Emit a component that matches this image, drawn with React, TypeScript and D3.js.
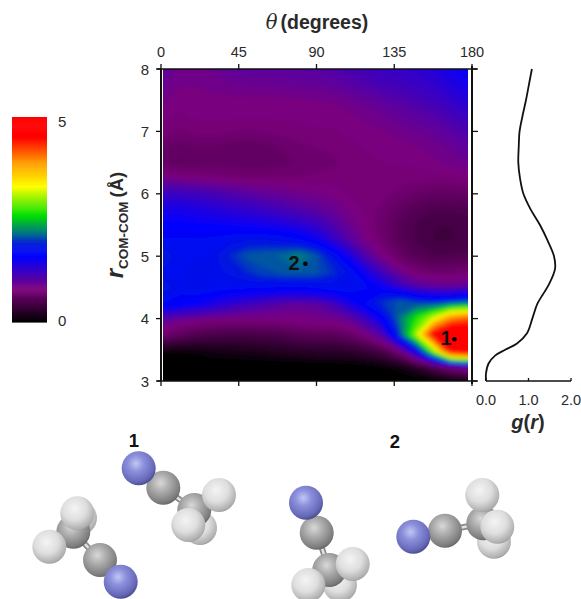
import React from "react";
import * as d3 from "d3";

const thetaValues = d3.range(0, 181, 10);
const rValues = d3.range(8, 2.99, -0.25);
// density, rows r = 8 -> 3, columns theta = 0 -> 180
const density: number[][] = [
  [1.0,.9,.9,.95,1.0,1.03,1.03,1.03,1.05,1.07,1.1,1.15,1.2,1.25,1.28,1.32,1.38,1.5,1.62],
  [.95,.88,.88,.9,.92,.93,.93,.95,.97,.97,1.0,1.05,1.1,1.16,1.2,1.25,1.3,1.4,1.5],
  [.88,.85,.85,.85,.85,.85,.85,.85,.85,.87,.88,.92,.97,1.03,1.08,1.14,1.2,1.28,1.38],
  [.84,.8,.83,.83,.83,.83,.83,.83,.83,.84,.84,.86,.89,.93,.98,1.03,1.08,1.16,1.25],
  [.8,.74,.78,.78,.76,.74,.76,.78,.8,.81,.81,.83,.85,.87,.9,.94,.98,1.05,1.12],
  [.68,.66,.68,.68,.66,.64,.66,.7,.73,.76,.78,.8,.82,.83,.85,.87,.9,.95,1.02],
  [.66,.62,.64,.66,.66,.64,.64,.67,.7,.72,.73,.78,.8,.82,.82,.84,.86,.89,.93],
  [.86,.82,.8,.78,.76,.74,.75,.76,.76,.78,.79,.79,.8,.8,.8,.78,.78,.78,.8],
  [1.22,1.22,1.18,1.13,1.08,1.03,.98,.94,.9,.87,.85,.81,.8,.78,.72,.68,.64,.64,.66],
  [1.45,1.48,1.42,1.38,1.32,1.28,1.22,1.15,1.08,1.02,.95,.86,.8,.73,.63,.55,.52,.52,.54],
  [1.62,1.62,1.6,1.58,1.55,1.52,1.48,1.42,1.35,1.25,1.1,.93,.8,.7,.58,.5,.46,.46,.48],
  [1.72,1.72,1.72,1.74,1.78,1.82,1.82,1.78,1.7,1.55,1.3,1.05,.86,.72,.58,.5,.45,.45,.48],
  [1.92,1.75,1.75,1.8,1.95,2.08,2.12,2.14,2.22,2.08,1.8,1.42,1.05,.82,.66,.56,.52,.52,.54],
  [1.78,1.76,1.84,1.8,1.86,1.96,2.05,2.08,2.1,2.08,1.98,1.78,1.42,1.12,.88,.74,.7,.7,.74],
  [1.88,1.78,1.82,1.76,1.72,1.7,1.68,1.66,1.66,1.68,1.74,1.8,1.72,1.5,1.25,1.05,.98,.95,1.0],
  [1.7,1.62,1.55,1.42,1.3,1.2,1.12,1.03,.98,1.02,1.16,1.42,1.7,1.98,2.1,1.95,1.85,1.9,2.0],
  [1.0,.9,.85,.82,.8,.8,.8,.82,.85,.87,.88,.96,1.2,1.6,2.15,2.65,3.15,3.85,4.05],
  [.72,.6,.52,.48,.46,.46,.48,.5,.56,.58,.58,.66,.8,1.1,1.95,3.0,4.5,5.0,5.0],
  [.12,.1,.12,.16,.18,.2,.22,.25,.27,.3,.3,.32,.38,.5,.8,1.55,2.9,4.6,4.9],
  [0,0,0,0,0,0,0,0,0,.02,.02,.03,.05,.08,.15,.3,.55,.8,1.0],
  [0,0,0,0,0,0,0,0,0,0,0,0,0,0,0,0,0,.02,.03],
];

const colorStops = [0, 0.8, 1.6, 1.9, 2.15, 2.6, 3.3, 3.9, 4.5, 5];
const colorValues = ["#000000", "#7c007c", "#0000ff", "#0018dc", "#00708a", "#00e000", "#ffff00", "#ff9800", "#ff0000", "#ff0000"];

const gofrR = [8,7.75,7.5,7.25,7,6.75,6.5,6.25,6,5.75,5.5,5.25,5,4.8,4.56,4.4,4.24,4,3.76,3.6,3.5,3.41,3.28,3.12,3];
const gofrG = [1.08,1.01,.94,.86,.79,.77,.76,.8,.88,1.05,1.27,1.45,1.6,1.625,1.49,1.35,1.21,1.09,.96,.73,.45,.22,.06,0,0];

const thetaTicks = [0, 45, 90, 135, 180];
const rTicks = [3, 4, 5, 6, 7, 8];
const gTicks = [0, 1, 2];

type Atom = { x: number; y: number; kind: "N" | "C" | "H" };
const molecules: { atoms: Atom[]; sticks: [number, number, number, number][] }[] = [
  { sticks: [[163.3,487.7,194.3,510]], atoms: [
    {x:200,y:528,kind:"H"},{x:194.3,y:510,kind:"C"},{x:219,y:495,kind:"H"},{x:188.3,y:525,kind:"H"},{x:163.3,y:487.7,kind:"C"},{x:138.7,y:468.3,kind:"N"} ]},
  { sticks: [[100,560,73.3,531.7]], atoms: [
    {x:80,y:518,kind:"H"},{x:73.3,y:531.7,kind:"C"},{x:77.3,y:513.3,kind:"H"},{x:49.3,y:546.7,kind:"H"},{x:100,y:560,kind:"C"},{x:120.7,y:581.7,kind:"N"} ]},
  { sticks: [[316.7,532.7,329.3,570]], atoms: [
    {x:340,y:585,kind:"H"},{x:329.3,y:570,kind:"C"},{x:352.7,y:564,kind:"H"},{x:308.3,y:585,kind:"H"},{x:316.7,y:532.7,kind:"C"},{x:306,y:502.7,kind:"N"} ]},
  { sticks: [[445,530.7,483.3,523.3]], atoms: [
    {x:494,y:541.7,kind:"H"},{x:483.3,y:523.3,kind:"C"},{x:482.3,y:495,kind:"H"},{x:497.3,y:526.7,kind:"H"},{x:445,y:530.7,kind:"C"},{x:413.3,y:536.7,kind:"N"} ]},
];

const W = 581, H = 599;
const FONT = "'Liberation Sans', Arial, sans-serif";
const INK = "#2a2a2a";

const color = d3.scaleLinear<string>().domain(colorStops).range(colorValues).clamp(true);
const xTheta = d3.scaleLinear().domain([0, 180]).range([163, 468]);
const xAxisTheta = d3.scaleLinear().domain([0, 180]).range([161, 472]);
const yR = d3.scaleLinear().domain([3, 8]).range([381, 69]);
const xG = d3.scaleLinear().domain([0, 2]).range([486, 571]);
const yBar = d3.scaleLinear().domain([0, 5]).range([322, 117]);

const thresholds = d3.range(0.04, 5.01, 0.06);
const nx = thetaValues.length, ny = rValues.length;
const contours = d3.contours().size([nx, ny]).thresholds(thresholds).smooth(true)(density.flat());
const gx = d3.scaleLinear().domain([0.5, nx - 0.5]).range([xTheta(0), xTheta(180)]);
const gy = d3.scaleLinear().domain([0.5, ny - 0.5]).range([yR(8), yR(3)]);
const contourPath = d3.geoPath(
  d3.geoTransform({
    point(x: number, y: number) {
      (this as any).stream.point(gx(x), gy(y));
    },
  })
);
const gLine = d3
  .line<number>()
  .x((_, i) => xG(gofrG[i]))
  .y((r) => yR(r))
  .curve(d3.curveCatmullRom.alpha(0.5));

const barSteps = d3.range(0, 5, 0.025);
const atomR = { N: 17, C: 17, H: 17 };

export default function App() {
  return (
    <svg width={W} height={H} viewBox={`0 0 ${W} ${H}`} style={{ position: "absolute", left: 0, top: 0, background: "#fff" }} fontFamily={FONT}>
      <defs>
        <clipPath id="plot">
          <rect x={xTheta(0)} y={yR(8)} width={xTheta(180) - xTheta(0)} height={yR(3) - yR(8)} />
        </clipPath>
        <filter id="soft" x="-5%" y="-5%" width="110%" height="110%">
          <feGaussianBlur stdDeviation="2" />
        </filter>
        <filter id="mol" x="-5%" y="-5%" width="110%" height="110%">
          <feGaussianBlur stdDeviation="0.5" />
        </filter>
        <radialGradient id="atomN" cx="0.42" cy="0.36" r="0.68">
          <stop offset="0" stopColor="#c2c6f2" />
          <stop offset="0.35" stopColor="#8c90dc" />
          <stop offset="0.8" stopColor="#6468b8" />
          <stop offset="1" stopColor="#44467c" />
        </radialGradient>
        <radialGradient id="atomC" cx="0.42" cy="0.36" r="0.68">
          <stop offset="0" stopColor="#d8d8d8" />
          <stop offset="0.4" stopColor="#ababab" />
          <stop offset="0.85" stopColor="#7c7c7c" />
          <stop offset="1" stopColor="#5e5e5e" />
        </radialGradient>
        <radialGradient id="atomH" cx="0.42" cy="0.36" r="0.7">
          <stop offset="0" stopColor="#f4f4f4" />
          <stop offset="0.5" stopColor="#dedede" />
          <stop offset="0.88" stopColor="#aeaeae" />
          <stop offset="1" stopColor="#868686" />
        </radialGradient>
      </defs>

      {/* color bar */}
      <g>
        {barSteps.map((v) => (
          <rect key={v} x={12} width={35} y={yBar(v + 0.025)} height={yBar(v) - yBar(v + 0.025) + 0.6} fill={color(v)} />
        ))}
      </g>
      <text x={58} y={yBar(5) + 10} fontSize={15} fill={INK}>5</text>
      <text x={58} y={yBar(0) + 4} fontSize={15} fill={INK}>0</text>

      {/* heat map */}
      <g clipPath="url(#plot)">
        <rect x={xTheta(0)} y={yR(8)} width={305} height={312} fill="#000" />
        <g filter="url(#soft)">
          {contours.map((c) => (
            <path key={c.value} d={contourPath(c as any) ?? ""} fill={color(c.value)} stroke={color(c.value)} strokeWidth={4} />
          ))}
        </g>
      </g>

      {/* frame and axes */}
      <g stroke="#111" fill="none" strokeWidth={1.3}>
        <line x1={xAxisTheta(0) - 4} x2={xAxisTheta(180) + 5} y1={yR(8)} y2={yR(8)} />
        <line x1={xAxisTheta(0) - 4} x2={xAxisTheta(180) + 5} y1={yR(3)} y2={yR(3)} />
        <line x1={xAxisTheta(0)} x2={xAxisTheta(0)} y1={yR(8)} y2={yR(3)} strokeWidth={2} />
        <line x1={xAxisTheta(180)} x2={xAxisTheta(180)} y1={yR(8) - 3} y2={yR(3) + 3} strokeWidth={2} />
        {thetaTicks.map((t) => (
          <g key={t}>
            <line x1={xAxisTheta(t)} x2={xAxisTheta(t)} y1={yR(8) - 5} y2={yR(8)} />
            <line x1={xAxisTheta(t)} x2={xAxisTheta(t)} y1={yR(3)} y2={yR(3) + 5} />
          </g>
        ))}
        {rTicks.map((r) => (
          <g key={r}>
            <line x1={xAxisTheta(0) - 5} x2={xAxisTheta(0)} y1={yR(r)} y2={yR(r)} />
            <line x1={xAxisTheta(180)} x2={xAxisTheta(180) + 6} y1={yR(r)} y2={yR(r)} />
          </g>
        ))}
      </g>
      {thetaTicks.map((t) => (
        <text key={t} x={xAxisTheta(t)} y={57} fontSize={14.5} textAnchor="middle" fill={INK}>{t}</text>
      ))}
      {rTicks.map((r) => (
        <text key={r} x={149} y={yR(r) + 5.5} fontSize={15} textAnchor="end" fill={INK}>{r}</text>
      ))}
      <text x={317} y={29} textAnchor="middle" fontSize={19.5} fontWeight="bold" fill={INK}>
        <tspan fontStyle="italic" fontWeight="normal" fontFamily="'DejaVu Serif', 'Liberation Serif', serif">θ</tspan>
        <tspan dx={3}>(degrees)</tspan>
      </text>
      <text transform="translate(123,225) rotate(-90)" textAnchor="middle" fontSize={18.5} fontWeight="bold" fill={INK}>
        <tspan fontStyle="italic" fontSize={24}>r</tspan>
        <tspan fontSize={13.5} dy={5}>COM-COM</tspan>
        <tspan dy={-5} dx={4}>(Å)</tspan>
      </text>

      {/* markers */}
      <circle cx={xTheta(172)} cy={yR(3.67)} r={2.3} fill="#000" />
      <circle cx={xTheta(84)} cy={yR(4.88)} r={2.3} fill="#000" />
      <text x={446} y={345} textAnchor="middle" fontSize={20} fontWeight="bold" fill="#111">1</text>
      <text x={294} y={270} textAnchor="middle" fontSize={20} fontWeight="bold" fill="#111">2</text>

      {/* g(r) */}
      <path d={gLine(gofrR) ?? ""} fill="none" stroke="#111" strokeWidth={1.8} />
      <g stroke="#111" strokeWidth={1.3}>
        <line x1={xG(0)} x2={xG(2)} y1={yR(3)} y2={yR(3)} />
        {gTicks.map((g) => (
          <line key={g} x1={xG(g)} x2={xG(g)} y1={yR(3) - 3} y2={yR(3)} />
        ))}
      </g>
      {gTicks.map((g) => (
        <text key={g} x={xG(g)} y={405} fontSize={14.5} textAnchor="middle" fill={INK}>{d3.format(".1f")(g)}</text>
      ))}
      <text x={528} y={429} textAnchor="middle" fontSize={20} fontWeight="bold" fontStyle="italic" fill={INK}>
        g<tspan fontStyle="normal">(</tspan>r<tspan fontStyle="normal">)</tspan>
      </text>

      {/* structures */}
      <text x={134} y={447} textAnchor="middle" fontSize={18.5} fontWeight="bold" fill="#111">1</text>
      <text x={395} y={448} textAnchor="middle" fontSize={18.5} fontWeight="bold" fill="#111">2</text>
      {molecules.map((m, i) => (
        <g key={i} filter="url(#mol)">
          {m.sticks.map((s, j) => (
            <g key={j}>
              <line x1={s[0]} y1={s[1]} x2={s[2]} y2={s[3]} stroke="#8a8a8a" strokeWidth={6} />
              <line x1={s[0]} y1={s[1]} x2={s[2]} y2={s[3]} stroke="#e2e2e2" strokeWidth={2.5} />
            </g>
          ))}
          {m.atoms.map((a, j) => (
            <circle key={j} cx={a.x} cy={a.y} r={atomR[a.kind]} fill={`url(#atom${a.kind})`} />
          ))}
        </g>
      ))}
    </svg>
  );
}
